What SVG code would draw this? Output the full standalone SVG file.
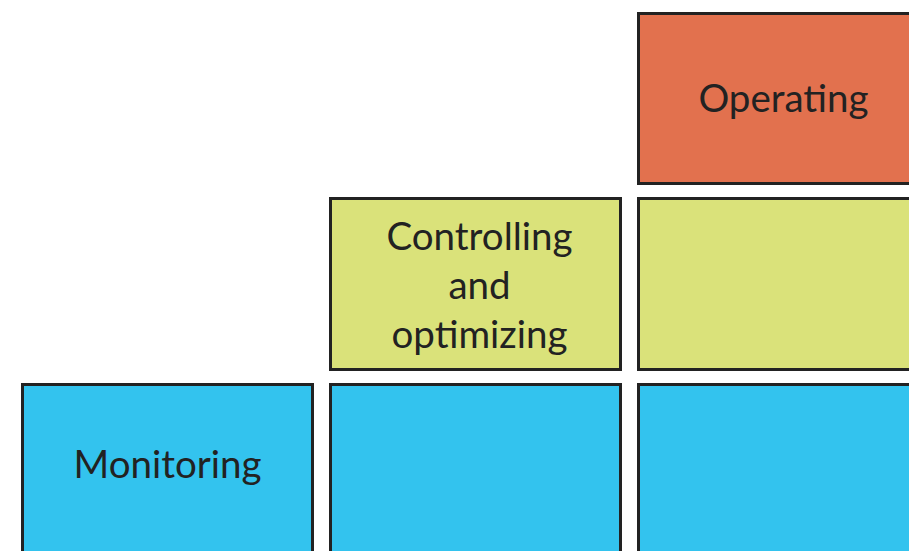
<svg xmlns="http://www.w3.org/2000/svg" width="909" height="551" viewBox="0 0 909 551">
  <style>
    .box { stroke: #222222; stroke-width: 3; }
    .op { fill: #E2714E; }
    .ctl { fill: #DAE27A; }
    .mon { fill: #33C3EE; }
    .lbl { font-family: Lato, "Open Sans", "Liberation Sans", sans-serif; font-size: 38.5px; fill: #222222; text-anchor: middle; }
  </style>
  <rect width="909" height="551" fill="#ffffff"/>
  <g id="operating">
    <rect class="box op" x="638.5" y="13.5" width="291" height="170"/>
    <text class="lbl" x="783.5" y="112">Operating</text>
  </g>
  <g id="controlling">
    <rect class="box ctl" x="330.5" y="198.5" width="290" height="171"/>
    <text class="lbl" x="479.5" y="250">Controlling</text>
    <text class="lbl" x="479.5" y="299">and</text>
    <text class="lbl" x="479.5" y="348">optimizing</text>
  </g>
  <g id="controlling-right">
    <rect class="box ctl" x="638.5" y="198.5" width="291" height="171"/>
  </g>
  <g id="monitoring">
    <rect class="box mon" x="22.5" y="384.5" width="290" height="171"/>
    <text class="lbl" x="167.5" y="478">Monitoring</text>
  </g>
  <g id="monitoring-middle">
    <rect class="box mon" x="330.5" y="384.5" width="290" height="171"/>
  </g>
  <g id="monitoring-right">
    <rect class="box mon" x="638.5" y="384.5" width="291" height="171"/>
  </g>
  <g id="connectors"/>
</svg>
